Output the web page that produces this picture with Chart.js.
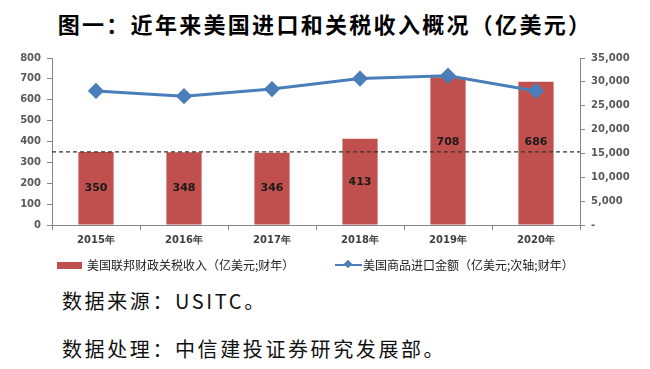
<!DOCTYPE html>
<html>
<head>
<meta charset="utf-8">
<script src="https://cdn.jsdelivr.net/npm/chart.js@4/dist/chart.umd.min.js"></script>
<style>
    body { margin: 0; background: #fff; }
    #wrap { position: relative; width: 650px; height: 369px; overflow: hidden; font-family: "Noto Sans CJK SC", sans-serif; }
    #title { position: absolute; left: 0; top: 7px; width: 650px; text-align: center; font-size: 22px; font-weight: 700; letter-spacing: 2.3px; color: #000; }
    #chart { position: absolute; left: 0; top: 40px; }
    .legend { position: absolute; top: 256px; font-size: 12px; color: #222; white-space: nowrap; }
    .swatch { position: absolute; top: 6px; width: 25px; height: 7px; background: #c0504d; }
    .lineKey { position: absolute; top: 8px; width: 27px; height: 2px; background: #4a7ebb; }
    .lineKey i { position: absolute; left: 10px; top: -3px; width: 6px; height: 6px; background: #4a7ebb; transform: rotate(45deg); }
    .note { position: absolute; left: 62px; font-size: 20px; letter-spacing: 2.6px; color: #111; }
</style>
</head>
<body>
<div id="wrap">
    <div id="title">图一：近年来美国进口和关税收入概况（亿美元）</div>
    <canvas id="chart" width="650" height="245"></canvas>
    <div class="legend" style="left:57px;"><span class="swatch" style="left:0"></span><span style="margin-left:30px">美国联邦财政关税收入（亿美元;财年）</span></div>
    <div class="legend" style="left:335px;"><span class="lineKey" style="left:0"><i></i></span><span style="margin-left:28px">美国商品进口金额（亿美元;次轴;财年）</span></div>
    <div class="note" style="top:286px;">数据来源：USITC。</div>
    <div class="note" style="top:334px;">数据处理：中信建投证券研究发展部。</div>
</div>
<script>
// Data
const years = ['2015年', '2016年', '2017年', '2018年', '2019年', '2020年'];
const tariffRevenue = [350, 348, 346, 413, 708, 686];        // left axis
const goodsImports = [28100, 27000, 28500, 30700, 31300, 28100]; // right axis
const tariffBaseline = 350; // dashed reference line
const leftTicks = { min: 0, max: 800, step: 100 };
const rightTicks = { min: 0, max: 35000, step: 5000 };

const axisFont = { family: 'DejaVu Sans', size: 10, weight: 'bold' };
const axisColor = '#595959';
const lineGray = '#868686';

// Dashed line across the plot at the baseline value
const baselinePlugin = {
    id: 'baseline',
    afterDatasetsDraw(chart) {
        const y = chart.scales.y.getPixelForValue(tariffBaseline);
        const { left, right } = chart.chartArea;
        const ctx = chart.ctx;
        ctx.save();
        ctx.strokeStyle = '#333';
        ctx.lineWidth = 1.2;
        ctx.setLineDash([4, 3]);
        ctx.beginPath();
        ctx.moveTo(left, y);
        ctx.lineTo(right, y);
        ctx.stroke();
        ctx.restore();
    }
};

// Value labels in the middle of each bar (bar dataset is index 1);
// nudged up when the dashed line would run through them
const barLabels = {
    id: 'barLabels',
    afterDatasetsDraw(chart) {
        const meta = chart.getDatasetMeta(1);
        const lineY = chart.scales.y.getPixelForValue(tariffBaseline);
        const ctx = chart.ctx;
        ctx.save();
        ctx.font = 'bold 11px "DejaVu Sans"';
        ctx.fillStyle = '#1a1a1a';
        ctx.textAlign = 'center';
        ctx.textBaseline = 'middle';
        meta.data.forEach((bar, i) => {
            let mid = (bar.y + bar.base) / 2;
            if (Math.abs(mid - lineY) < 9) mid = lineY - 10;
            ctx.fillText(tariffRevenue[i], bar.x, mid);
        });
        ctx.restore();
    }
};

new Chart(document.getElementById('chart'), {
    data: {
        labels: years,
        datasets: [
            {
                type: 'line',
                label: '美国商品进口金额（亿美元;次轴;财年）',
                data: goodsImports,
                yAxisID: 'y1',
                borderColor: '#4a7ebb',
                backgroundColor: '#4a7ebb',
                borderWidth: 3,
                pointStyle: 'rectRot',
                pointRadius: 6,
                pointHoverRadius: 6,
                tension: 0,
                order: 0
            },
            {
                type: 'bar',
                label: '美国联邦财政关税收入（亿美元;财年）',
                data: tariffRevenue,
                yAxisID: 'y',
                backgroundColor: '#c0504d',
                categoryPercentage: 0.4,
                barPercentage: 1,
                order: 1
            }
        ]
    },
    options: {
        responsive: false,
        animation: false,
        devicePixelRatio: 1,
        layout: { padding: { top: 18, bottom: 33, left: 0, right: 0 } },
        plugins: {
            legend: { display: false },
            tooltip: { enabled: false }
        },
        scales: {
            x: {
                offset: true,
                grid: { offset: true, drawOnChartArea: false, color: lineGray, tickLength: 5 },
                border: { color: lineGray },
                ticks: { color: '#404040', font: axisFont, padding: 4 },
                afterFit(s) { s.height = 27; }
            },
            y: {
                position: 'left',
                min: leftTicks.min,
                max: leftTicks.max,
                grid: { drawOnChartArea: false, color: lineGray, tickLength: 5 },
                border: { color: lineGray },
                ticks: { stepSize: leftTicks.step, color: axisColor, font: axisFont, padding: 6 },
                afterFit(s) { s.width = 52; }
            },
            y1: {
                position: 'right',
                min: rightTicks.min,
                max: rightTicks.max,
                grid: { drawOnChartArea: false, color: lineGray, tickLength: 5 },
                border: { color: lineGray },
                ticks: {
                    stepSize: rightTicks.step,
                    color: axisColor,
                    font: axisFont,
                    padding: 6,
                    callback: v => v === 0 ? '-' : v.toLocaleString('en-US')
                },
                afterFit(s) { s.width = 70; }
            }
        }
    },
    plugins: [baselinePlugin, barLabels]
});
</script>
</body>
</html>
